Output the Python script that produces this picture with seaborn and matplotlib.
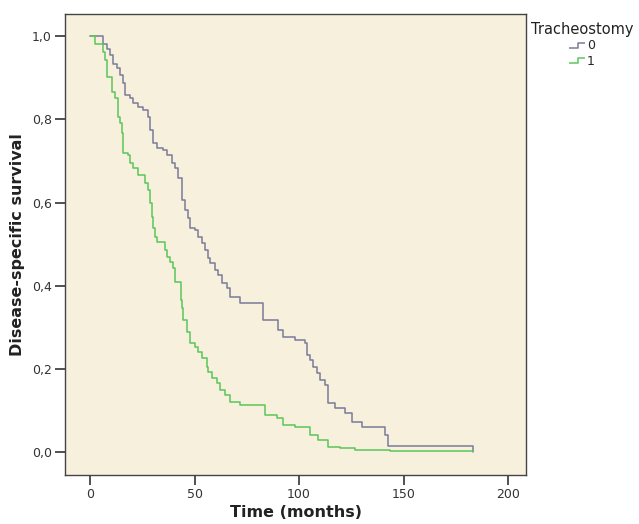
import numpy as np
import pandas as pd
import matplotlib
matplotlib.use("Agg")
import matplotlib.pyplot as plt
from matplotlib.lines import Line2D
from matplotlib.path import Path
import seaborn as sns

# Kaplan-Meier step points (time in months, survival)
time_0 = [0, 6.1, 8.0, 9.6, 11.1, 12.8, 14.4, 15.8, 16.7, 19.1, 20.6, 23.0, 25.4, 27.8, 28.7,
          30.1, 32.1, 34.9, 36.8, 39.2, 40.7, 42.1, 44.0, 45.5, 46.9, 47.8, 50.2, 51.7, 53.6,
          55.0, 56.5, 57.4, 59.8, 61.2, 63.2, 65.6, 67.0, 71.8, 82.8, 90.0, 92.3, 98.1, 102.9,
          103.8, 105.3, 106.7, 108.6, 110.0, 112.4, 113.9, 117.2, 122.0, 125.4, 130.1, 141.1,
          142.6, 183.2]
surv_0 = [1.0, 0.982, 0.970, 0.954, 0.934, 0.923, 0.906, 0.887, 0.858, 0.851, 0.839, 0.830,
          0.822, 0.805, 0.774, 0.743, 0.731, 0.726, 0.714, 0.695, 0.683, 0.659, 0.606, 0.582,
          0.563, 0.538, 0.534, 0.517, 0.502, 0.486, 0.466, 0.454, 0.438, 0.425, 0.406, 0.394,
          0.373, 0.358, 0.317, 0.293, 0.276, 0.269, 0.262, 0.233, 0.221, 0.204, 0.190, 0.173,
          0.161, 0.118, 0.106, 0.094, 0.072, 0.060, 0.041, 0.014, 0.0]

time_1 = [0, 2.4, 6.2, 7.2, 8.0, 10.4, 12.0, 13.5, 14.4, 15.2, 15.9, 18.2, 19.1, 20.6, 23.0,
          26.3, 27.8, 28.7, 29.7, 30.1, 31.1, 32.1, 35.9, 36.8, 38.3, 39.7, 40.7, 43.5, 43.9,
          44.5, 46.4, 47.8, 50.2, 51.7, 53.6, 56.0, 56.5, 58.4, 60.8, 62.2, 64.6, 67.0, 71.8,
          83.7, 89.5, 92.3, 98.1, 105.3, 109.1, 113.9, 119.6, 126.8, 143.5, 183.2]
surv_1 = [1.0, 0.982, 0.962, 0.942, 0.902, 0.866, 0.851, 0.806, 0.791, 0.767, 0.719, 0.714,
          0.695, 0.683, 0.666, 0.647, 0.630, 0.600, 0.565, 0.538, 0.517, 0.505, 0.486, 0.469,
          0.457, 0.442, 0.409, 0.365, 0.346, 0.317, 0.288, 0.262, 0.252, 0.240, 0.226, 0.204,
          0.192, 0.178, 0.166, 0.149, 0.137, 0.120, 0.113, 0.089, 0.082, 0.065, 0.060, 0.041,
          0.029, 0.012, 0.010, 0.005, 0.002, 0.002]

groups = ["0", "1"]
x_ticks = [0, 50, 100, 150, 200]
y_ticks = [0.0, 0.2, 0.4, 0.6, 0.8, 1.0]
y_tick_labels = ["0,0", "0,2", "0,4", "0,6", "0,8", "1,0"]

df = pd.concat([
    pd.DataFrame({"time": time_0, "surv": surv_0, "Tracheostomy": groups[0]}),
    pd.DataFrame({"time": time_1, "surv": surv_1, "Tracheostomy": groups[1]}),
])

colors = {"0": "#7b7b9a", "1": "#5cc65c"}
bg = "#f6f0dc"

sns.set_style("ticks")
plt.rcParams["font.family"] = ["DejaVu Sans"]

fig = plt.figure(figsize=(6.39, 5.24), dpi=100)
ax = fig.add_axes([0.102, 0.0935, 0.721, 0.8795])
ax.set_facecolor(bg)

sns.lineplot(data=df, x="time", y="surv", hue="Tracheostomy", palette=colors,
             estimator=None, sort=False, drawstyle="steps-post", linewidth=1.1,
             legend=False, ax=ax)

ax.set_xlim(-12, 208.6)
ax.set_ylim(-0.055, 1.053)
ax.set_xticks(x_ticks)
ax.set_yticks(y_ticks)
ax.set_yticklabels(y_tick_labels)
ax.tick_params(axis="both", labelsize=9, length=7, width=1.2, pad=2.5, color="#333333",
               labelcolor="#333333", direction="out")
for s in ax.spines.values():
    s.set_color("#444444")
    s.set_linewidth(1.0)

ax.set_xlabel("Time (months)", fontsize=11.5, fontweight="bold", color="#222222", labelpad=3)
ax.set_ylabel("Disease-specific survival", fontsize=11.5, fontweight="bold", color="#222222", labelpad=5)

# legend with small step glyphs like SPSS
step = Path([(-1, -0.3), (0.1, -0.3), (0.1, 0.3), (1, 0.3)],
            [Path.MOVETO, Path.LINETO, Path.LINETO, Path.LINETO])
handles = [Line2D([], [], linestyle="none", marker=step, markersize=12,
                  markerfacecolor="none", markeredgecolor=colors[g], markeredgewidth=1.1)
           for g in groups]
leg = ax.legend(handles, groups, title="Tracheostomy", loc="upper left",
                bbox_to_anchor=(522 / 639, 1 - 13 / 524), bbox_transform=fig.transFigure,
                frameon=False, fontsize=9, title_fontsize=10.5, handlelength=1.2,
                handletextpad=0.2, labelspacing=0.2, borderpad=0.2)
leg.get_title().set_color("#222222")

fig.savefig("out.png", dpi=100)
